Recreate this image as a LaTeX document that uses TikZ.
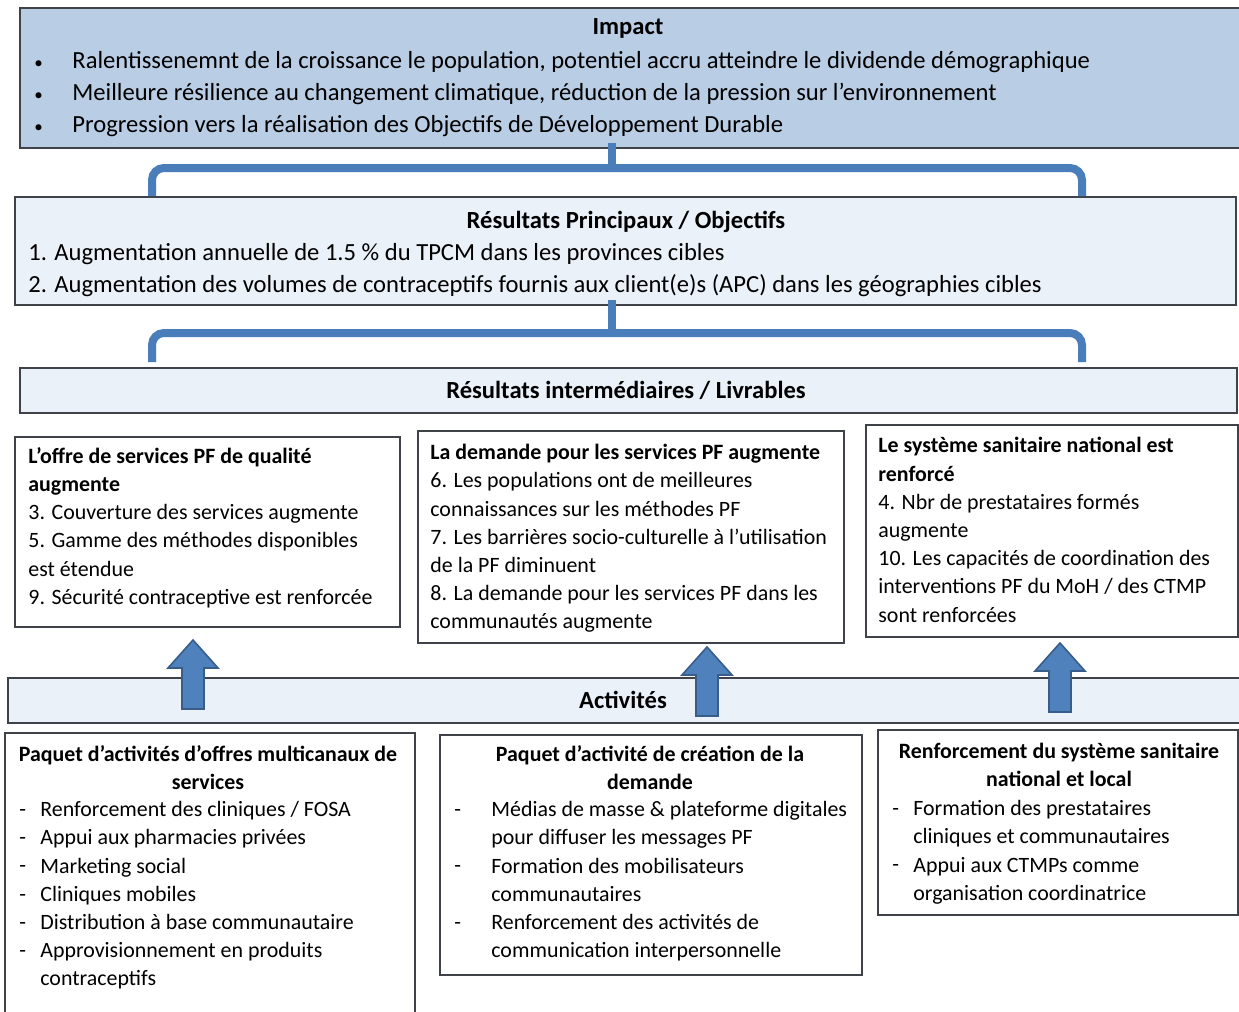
\documentclass[tikz,border=0pt]{standalone}
\usepackage{fontspec}
\setmainfont{Carlito}
\usetikzlibrary{fit}
\definecolor{impactfill}{HTML}{B9CDE5}
\definecolor{lightfill}{HTML}{EBF1F9}
\definecolor{bordercol}{HTML}{3F4248}
\definecolor{bracecol}{HTML}{4A7EBB}
\definecolor{arrowfill}{HTML}{4F81BD}
\definecolor{arrowdraw}{HTML}{385D8A}
\newcommand\fsBig{\fontsize{12.3}{16}\selectfont}
\newcommand\fsBody{\fontsize{10.95}{14.1}\selectfont}
\newcommand\hph{\vphantom{Rf}}
\newcommand\smbul{\hph{\fontsize{8.5}{16}\selectfont\textbullet}}
\begin{document}
\begin{tikzpicture}[x=0.5pt,y=-0.5pt,
  box/.style={draw=bordercol, line width=1pt, inner sep=0pt},
  txt/.style={inner sep=0pt, align=left, anchor=north west},
  ctxt/.style={inner sep=0pt, align=center, anchor=north},
  bracepath/.style={draw=bracecol, line width=4pt, rounded corners=6pt},
  uparrow/.pic={\filldraw[fill=arrowfill, draw=arrowdraw, line width=0.8pt]
     (-11,0) -- (-11,-41) -- (-25,-41) -- (0,-69) -- (25,-41) -- (11,-41) -- (11,0) -- cycle;}
]
\useasboundingbox (0,0) rectangle (1239,1012);
\fill[white] (0,0) rectangle (1239,1012);

% ---------- boxes ----------
\node[box, fill=impactfill, fit={(20,8) (1250,148)}] (impact) {};
\node[box, fill=lightfill, fit={(15,197) (1236,305)}] (res) {};
\node[box, fill=lightfill, fit={(20,368) (1237,413)}] (inter) {};
\node[box, fill=white, fit={(15,437) (400,627)}] (ra) {};
\node[box, fill=white, fit={(418,431) (844,643)}] (rb) {};
\node[box, fill=white, fit={(866,425) (1238,637)}] (rc) {};
\node[box, fill=lightfill, fit={(8,678) (1250,723)}] (act) {};
\node[box, fill=white, fit={(5,733) (415,1030)}] (pa) {};
\node[box, fill=white, fit={(440,735) (862,975)}] (pb) {};
\node[box, fill=white, fit={(878,730) (1238,915)}] (pc) {};

% ---------- braces ----------
\coordinate (s1) at (612,168);
\coordinate (l1) at (152,168);
\coordinate (r1) at (1082,168);
\draw[bracepath] (impact.south -| s1) ++(0,-6) -- (s1);
\draw[bracepath] (l1 |- res.north) -- (l1) -- (r1) -- (r1 |- res.north);
\coordinate (s2) at (612,333);
\coordinate (l2) at (152,333);
\coordinate (r2) at (1082,333);
\draw[bracepath] (res.south -| s2) ++(0,-6) -- (s2);
\draw[bracepath] (l2 |- inter.north) ++(0,-5) -- (l2) -- (r2) -- ([yshift=2.5pt]r2 |- inter.north);

% ---------- block arrows ----------
\coordinate (a1) at (193,709);
\coordinate (a2) at (707,716);
\coordinate (a3) at (1060,712);
\pic at (a1) {uparrow};
\pic at (a2) {uparrow};
\pic at (a3) {uparrow};

% ---------- impact ----------
\node[ctxt, font=\fsBig\bfseries] (impT) at (628,18) {Impact};
\node[txt, font=\fsBig] (impB) at (34,51) {\smbul\\\smbul\\\smbul};
\node[txt, font=\fsBig] (impL) at (72,51) {Ralentissenemnt de la croissance le population, potentiel accru atteindre le dividende démographique\\
Meilleure résilience au changement climatique, réduction de la pression sur l’environnement\\
Progression vers la réalisation des Objectifs de Développement Durable};

% ---------- results ----------
\node[ctxt, font=\fsBig\bfseries] (resT) at (626,211) {Résultats Principaux / Objectifs};
\node[txt, font=\fsBig] (resL) at (28,243) {1. Augmentation annuelle de 1.5 \% du TPCM dans les provinces cibles\\
2. Augmentation des volumes de contraceptifs fournis aux client(e)s (APC) dans les géographies cibles};

\node[font=\fsBig\bfseries, inner sep=0pt] (interT) at (626,390) {Résultats intermédiaires / Livrables};

% ---------- intermediate boxes ----------
\node[txt, font=\fsBody] (raT) at (28,447) {\textbf{L’offre de services PF de qualité}\\
\textbf{augmente}\\
3. Couverture des services augmente\\
5. Gamme des méthodes disponibles\\
est étendue\\
9. Sécurité contraceptive est renforcée};
\node[txt, font=\fsBody] (rbT) at (430,444) {\textbf{La demande pour les services PF augmente}\\
6. Les populations ont de meilleures\\
connaissances sur les méthodes PF\\
7. Les barrières socio-culturelle à l’utilisation\\
de la PF diminuent\\
8. La demande pour les services PF dans les\\
communautés augmente};
\node[txt, font=\fsBody] (rcT) at (878,437) {\textbf{Le système sanitaire national est}\\
\textbf{renforcé}\\
4. Nbr de prestataires formés\\
augmente\\
10. Les capacités de coordination des\\
interventions PF du MoH / des CTMP\\
sont renforcées};

\node[font=\fsBig\bfseries, inner sep=0pt] (actT) at (623,700) {Activités};

% ---------- activity boxes ----------
\node[ctxt, font=\fsBody\bfseries] (paT) at (208,745) {Paquet d’activités d’offres multicanaux de\\services};
\node[txt, font=\fsBody] (paD) at (19,801) {\hph-\\\hph-\\\hph-\\\hph-\\\hph-\\\hph-};
\node[txt, font=\fsBody] (paL) at (40,801) {Renforcement des cliniques / FOSA\\
Appui aux pharmacies privées\\
Marketing social\\
Cliniques mobiles\\
Distribution à base communautaire\\
Approvisionnement en produits\\
contraceptifs};

\node[ctxt, font=\fsBody\bfseries] (pbT) at (650,745) {Paquet d’activité de création de la\\demande};
\node[txt, font=\fsBody] (pbD) at (454,801) {\hph-\\{}\\\hph-\\{}\\\hph-};
\node[txt, font=\fsBody] (pbL) at (491,801) {Médias de masse \& plateforme digitales\\
pour diffuser les messages PF\\
Formation des mobilisateurs\\
communautaires\\
Renforcement des activités de\\
communication interpersonnelle};

\node[ctxt, font=\fsBody\bfseries] (pcT) at (1059,743) {Renforcement du système sanitaire\\national et local};
\node[txt, font=\fsBody] (pcD) at (892,800) {\hph-\\{}\\\hph-};
\node[txt, font=\fsBody] (pcL) at (913,800) {Formation des prestataires\\
cliniques et communautaires\\
Appui aux CTMPs comme\\
organisation coordinatrice};
\end{tikzpicture}
\end{document}
